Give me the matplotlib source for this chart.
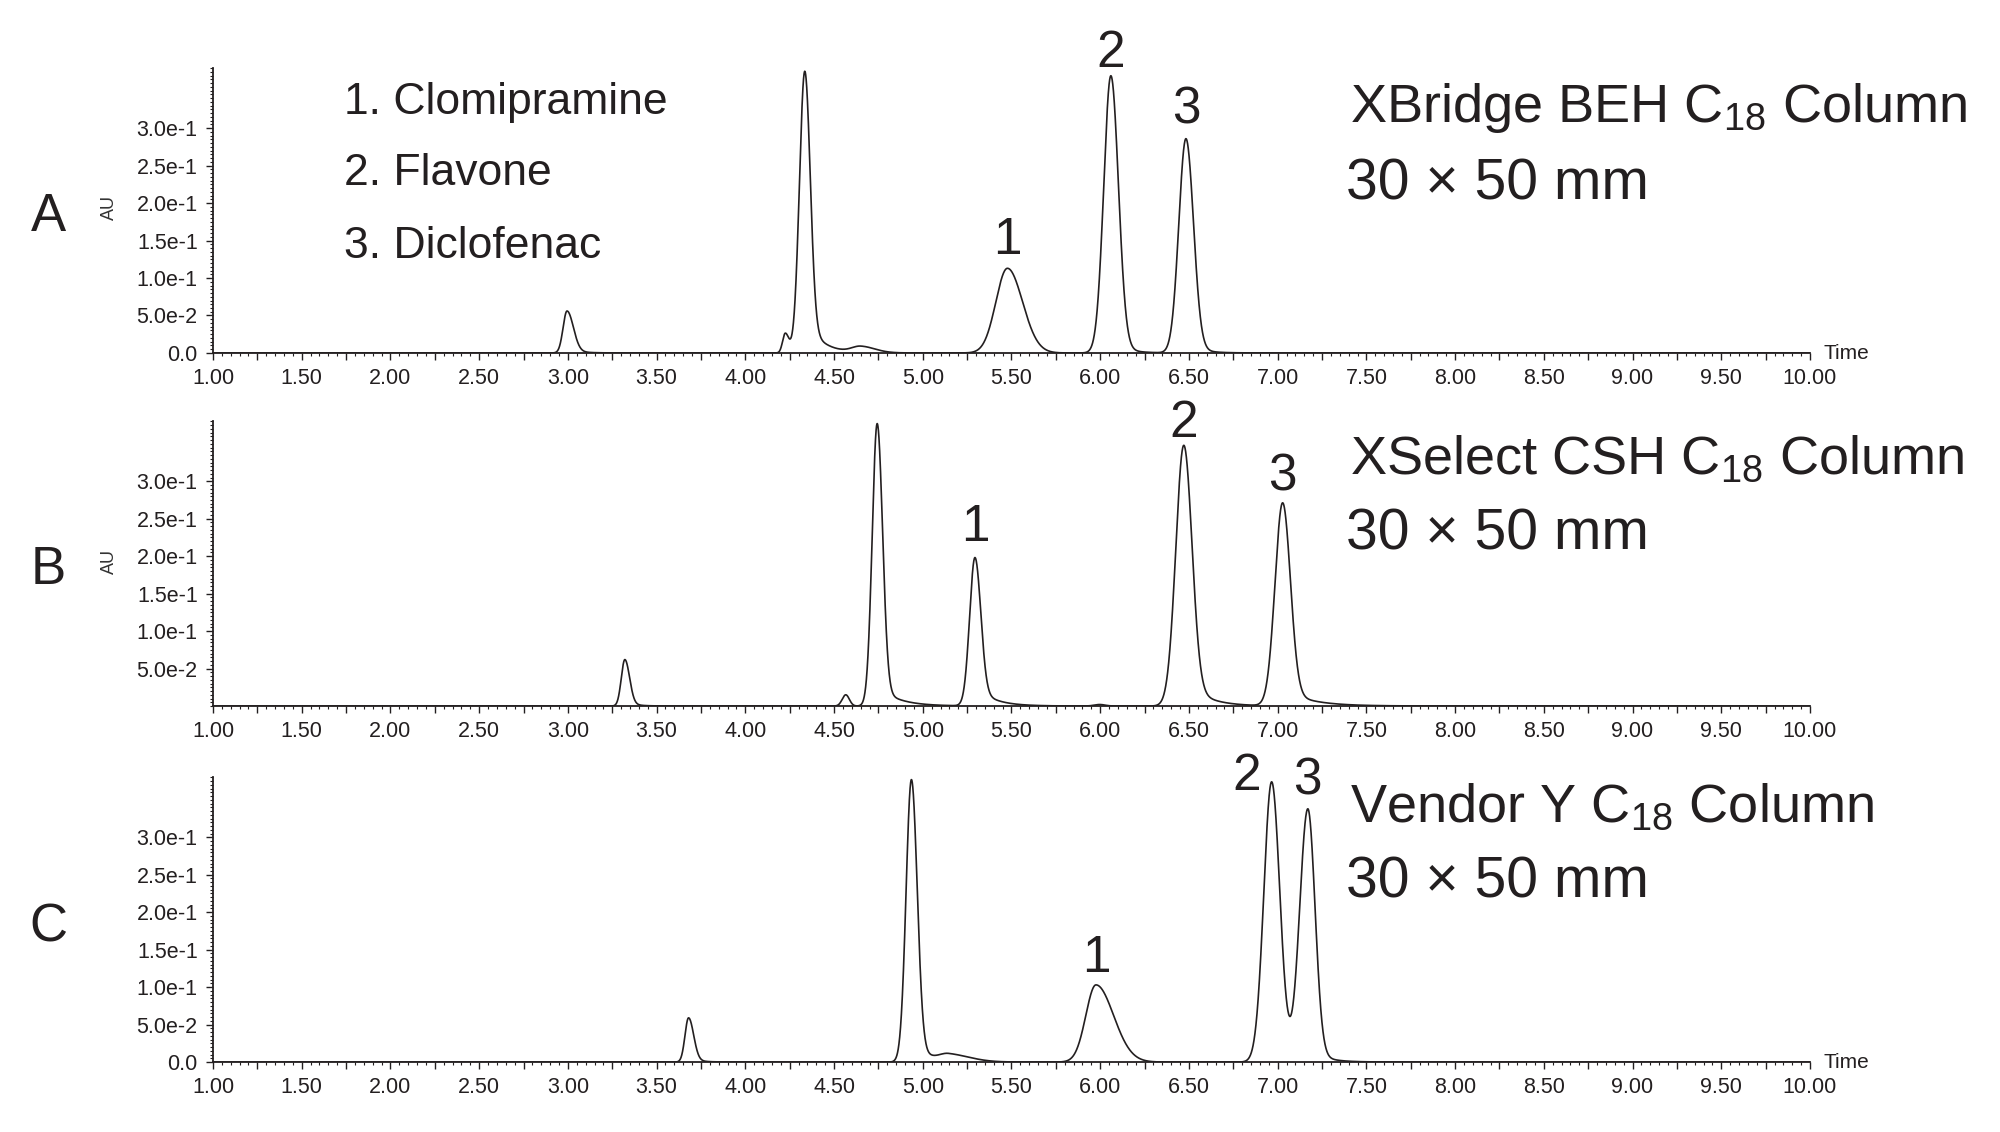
import numpy as np
import matplotlib
matplotlib.use('Agg')
import matplotlib.pyplot as plt
from matplotlib.ticker import FixedLocator, MultipleLocator, FuncFormatter

plt.rcParams['font.family'] = ['Liberation Sans', 'DejaVu Sans']
plt.rcParams['mathtext.default'] = 'regular'

INK = '#231f20'

# peak tables
# rt = apex time (min), h = apex height (AU), sl/sr = left/right width (min),
# tail = exponential tail fraction, tau = tail decay (min)
a_rt = [2.995, 4.225, 4.335, 4.65, 5.477, 6.060, 6.483]
a_h = [0.056, 0.026, 0.376, 0.008, 0.113, 0.370, 0.286]
a_sl = [0.022, 0.015, 0.030, 0.05, 0.065, 0.040, 0.040]
a_sr = [0.035, 0.020, 0.030, 0.08, 0.085, 0.042, 0.042]
a_tail = [0.10, 0.0, 0.13, 0.0, 0.0, 0.05, 0.05]
a_tau = [0.06, 0.05, 0.085, 0.05, 0.05, 0.07, 0.07]

b_rt = [3.321, 4.566, 4.743, 5.294, 5.997, 6.471, 7.028]
b_h = [0.062, 0.015, 0.377, 0.198, 0.002, 0.348, 0.271]
b_sl = [0.020, 0.020, 0.028, 0.030, 0.03, 0.045, 0.043]
b_sr = [0.026, 0.020, 0.030, 0.032, 0.03, 0.045, 0.043]
b_tail = [0.10, 0.0, 0.073, 0.14, 0.0, 0.11, 0.084]
b_tau = [0.05, 0.05, 0.11, 0.097, 0.05, 0.11, 0.146]

c_rt = [3.680, 4.936, 5.145, 5.976, 6.966, 7.170]
c_h = [0.059, 0.377, 0.009, 0.103, 0.374, 0.338]
c_sl = [0.020, 0.030, 0.05, 0.057, 0.044, 0.046]
c_sr = [0.028, 0.032, 0.12, 0.099, 0.046, 0.040]
c_tail = [0.10, 0.07, 0.0, 0.0, 0.0, 0.06]
c_tau = [0.05, 0.09, 0.05, 0.05, 0.05, 0.08]

# which peak carries label 1, 2, 3
a_labels = [4, 5, 6]
b_labels = [3, 5, 6]
c_labels = [3, 4, 5]

columns = [r'XBridge BEH C$_{18}$ Column', r'XSelect CSH C$_{18}$ Column', r'Vendor Y C$_{18}$ Column']
compounds = ['1. Clomipramine', '2. Flavone', '3. Diclofenac']
yticks_lab = [0.0, 0.05, 0.10, 0.15, 0.20, 0.25, 0.30]


def chromatogram(t, rt, h, sl, sr, tail, tau):
    y = np.zeros_like(t)
    for r, hh, l, s, k, d in zip(rt, h, sl, sr, tail, tau):
        x = t - r
        gl = np.exp(-0.5 * (x / l) ** 2)
        gr = np.exp(-0.5 * (x / s) ** 2)
        right = gr + k * np.exp(-np.clip(x, 0, None) / d) * (1 - gr)
        y += hh * np.where(x < 0, gl, right)
    return y


def yfmt(v, pos):
    if abs(v) < 1e-9:
        return '0.0'
    e = int(np.floor(np.log10(v) + 1e-9))
    return f'{v / 10 ** e:.1f}e{e}'


def xfmt(v, pos):
    if abs(round(v * 2) - v * 2) < 1e-6:
        return f'{v:.2f}'
    return ''


t = np.linspace(1.0, 10.0, 18001)

fig = plt.figure(figsize=(20, 11.32), dpi=100)

panels = [
    ('A', 0.6882, (a_rt, a_h, a_sl, a_sr, a_tail, a_tau), a_labels, True, True, True,
     [(0, 10), (0, 6), (0, 11)]),
    ('B', 0.3763, (b_rt, b_h, b_sl, b_sr, b_tail, b_tau), b_labels, False, True, False,
     [(0, 12), (0, 6), (0, 9)]),
    ('C', 0.0618, (c_rt, c_h, c_sl, c_sr, c_tail, c_tau), c_labels, True, False, True,
     [(0, 9), (-18, -6), (0, 10)]),
]

text_base = [(122, 199), (474, 549), (822, 897)]
letter_base = [231, 584, 941]
au_y = [207, 561]

for i, (letter, bottom, peaks, labs, zero_lab, au, time_lab, offs) in enumerate(panels):
    ax = fig.add_axes([0.1065, bottom, 0.7985, 0.2515])
    y = chromatogram(t, *peaks)
    ax.plot(t, y, color=INK, lw=1.2)
    ax.set_xlim(1.0, 10.0)
    ax.set_ylim(0, 0.38)
    for s in ['top', 'right']:
        ax.spines[s].set_visible(False)
    for s in ['left', 'bottom']:
        ax.spines[s].set_linewidth(1.3)
        ax.spines[s].set_color(INK)

    ax.xaxis.set_major_locator(MultipleLocator(0.25))
    ax.xaxis.set_minor_locator(MultipleLocator(0.05))
    ax.xaxis.set_major_formatter(FuncFormatter(xfmt))
    yt = yticks_lab if zero_lab else yticks_lab[1:]
    ax.yaxis.set_major_locator(FixedLocator(yt))
    ax.yaxis.set_minor_locator(MultipleLocator(0.005))
    ax.yaxis.set_major_formatter(FuncFormatter(yfmt))
    ax.tick_params(which='major', length=5, width=1.0, color=INK, labelsize=15.5, labelcolor=INK)
    ax.tick_params(which='minor', length=2.5, width=0.8, color=INK)
    ax.tick_params(axis='x', which='major', pad=6)
    ax.tick_params(axis='y', which='major', pad=6)

    for n, (idx, off) in enumerate(zip(labs, offs)):
        rt = peaks[0][idx]
        ax.annotate(str(n + 1), xy=(rt, y[np.argmin(abs(t - rt))]), xytext=off,
                    textcoords='offset points', ha='center', va='baseline',
                    fontsize=37, color=INK, annotation_clip=False)

    if time_lab:
        ax.annotate('Time', xy=(1, 0), xycoords='axes fraction', xytext=(10, -4),
                    textcoords='offset points', ha='left', va='baseline',
                    fontsize=15, color=INK)

    fig.text(48 / 2000, 1 - letter_base[i] / 1132, letter, ha='center', va='baseline',
             fontsize=38, color=INK)
    if au:
        fig.text(109 / 2000, 1 - au_y[i] / 1132, 'AU', rotation=90, ha='center',
                 va='center', fontsize=13, color='#333333')

    fig.text(1350 / 2000, 1 - text_base[i][0] / 1132, columns[i], ha='left',
             va='baseline', fontsize=39, color=INK)
    fig.text(1346 / 2000, 1 - text_base[i][1] / 1132, '30 × 50 mm', ha='left',
             va='baseline', fontsize=41, color=INK)

for k, name in enumerate(compounds):
    fig.text(344 / 2000, 1 - [114, 185, 258][k] / 1132, name, ha='left',
             va='baseline', fontsize=32, color=INK)

fig.savefig('out.png', dpi=100)
